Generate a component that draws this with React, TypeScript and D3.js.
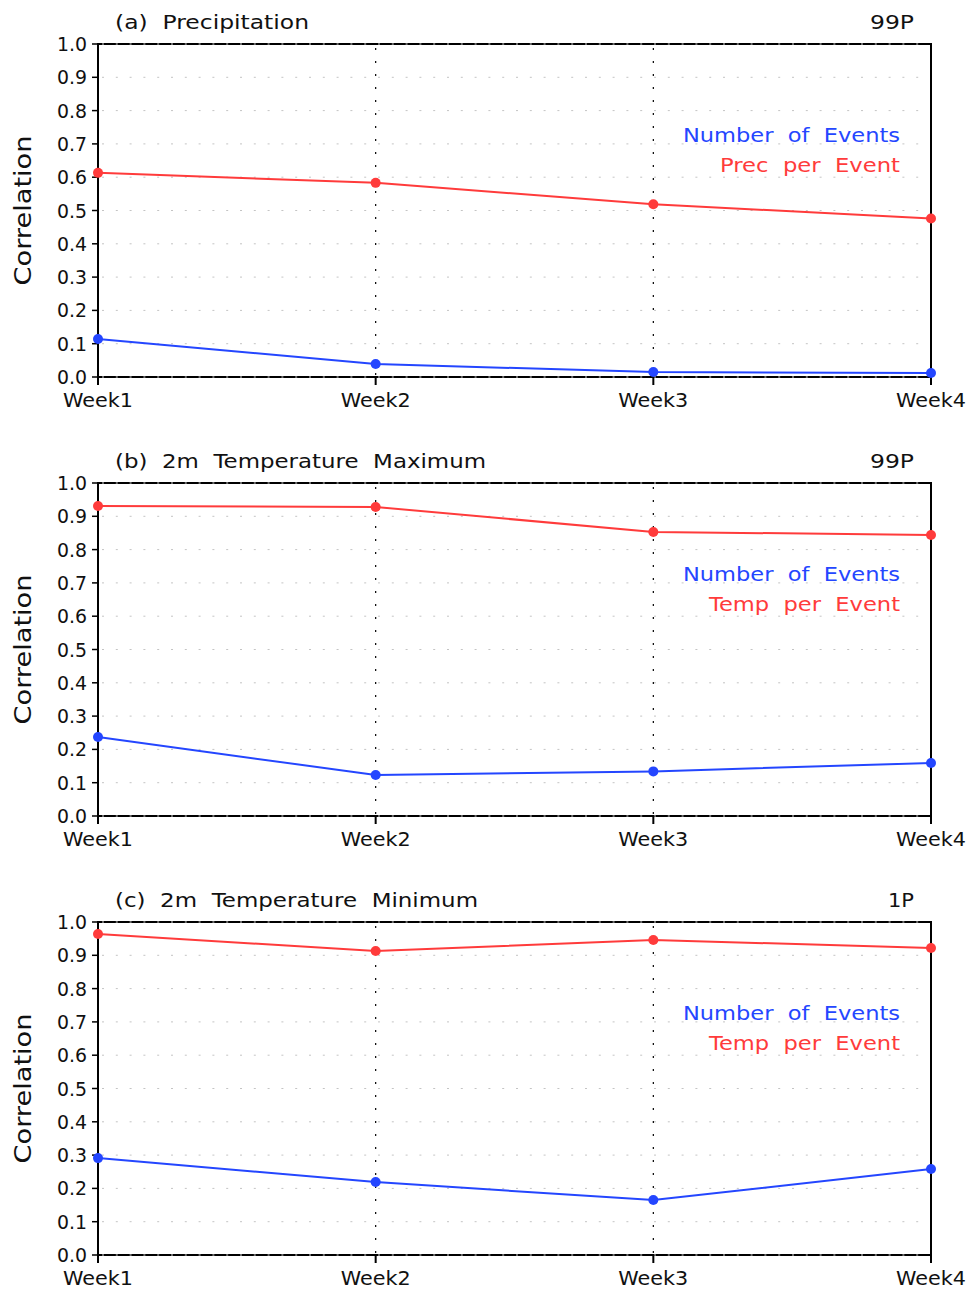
import React from "react";
import * as d3 from "d3";

const weeks = ["Week1", "Week2", "Week3", "Week4"];
const yTicks = [0, 0.1, 0.2, 0.3, 0.4, 0.5, 0.6, 0.7, 0.8, 0.9, 1.0];

const titles = ["(a)  Precipitation", "(b)  2m  Temperature  Maximum", "(c)  2m  Temperature  Minimum"];
const titleWidths = [194, 371, 363];
const rightLabels = ["99P", "99P", "1P"];
const rightWidths = [44, 44, 26];
const legendRed = ["Prec  per  Event", "Temp  per  Event", "Temp  per  Event"];
const legendRedWidths = [180, 191, 191];

const redA = [0.613, 0.583, 0.519, 0.476];
const blueA = [0.114, 0.039, 0.015, 0.012];
const redB = [0.931, 0.928, 0.853, 0.844];
const blueB = [0.237, 0.123, 0.134, 0.159];
const redC = [0.964, 0.913, 0.946, 0.922];
const blueC = [0.291, 0.219, 0.165, 0.258];

const redSeries = [redA, redB, redC];
const blueSeries = [blueA, blueB, blueC];

const RED = "#ff3b3b";
const BLUE = "#2446ff";
const FONT = "'DejaVu Sans', sans-serif";
const PRE = { whiteSpace: "pre" as const };

function Panel({ idx }: { idx: number }) {
  const top = 44 + idx * 439;
  const bottom = top + 333;
  const left = 98;
  const right = 931;
  const x = d3.scalePoint<string>().domain(weeks).range([left, right]);
  const y = d3.scaleLinear().domain([0, 1]).range([bottom, top]);
  const line = d3
    .line<number>()
    .x((_, i) => x(weeks[i]) as number)
    .y((d) => y(d));
  const red = redSeries[idx];
  const blue = blueSeries[idx];
  return (
    <g>
      {/* title */}
      <text x={115} y={top - 15} fontSize={20} fontFamily={FONT} fill="#111" style={PRE} textLength={titleWidths[idx]} lengthAdjust="spacingAndGlyphs">
        {titles[idx]}
      </text>
      <text x={914} y={top - 15} fontSize={20} fontFamily={FONT} fill="#111" textAnchor="end" textLength={rightWidths[idx]} lengthAdjust="spacingAndGlyphs">
        {rightLabels[idx]}
      </text>
      {/* border */}
      <rect x={left} y={top} width={right - left} height={bottom - top} fill="none" stroke="#000" strokeWidth={2} />
      {/* horizontal grid */}
      {yTicks.map((t) => (
        <line
          key={"g" + t}
          x1={left + 4}
          x2={right - 2}
          y1={y(t)}
          y2={y(t)}
          stroke={t === 0 || t === 1 ? "#d8d8d8" : "#c4c4c4"}
          strokeWidth={1}
          strokeDasharray="2 11.8"
        />
      ))}
      {/* vertical dotted lines */}
      {weeks.slice(1, 3).map((w) => (
        <line key={"v" + w} x1={x(w)} x2={x(w)} y1={top + 4} y2={bottom} stroke="#000" strokeWidth={1.2} strokeDasharray="2 11" />
      ))}
      {/* y ticks */}
      {yTicks.map((t) => (
        <g key={"t" + t}>
          <line x1={left - 6} x2={left} y1={y(t)} y2={y(t)} stroke="#000" strokeWidth={1.5} />
          <text x={87} y={y(t) + 7} fontSize={19} fontFamily={FONT} fill="#111" textAnchor="end" textLength={30} lengthAdjust="spacingAndGlyphs">
            {t.toFixed(1)}
          </text>
        </g>
      ))}
      {/* x ticks */}
      {weeks.map((w) => (
        <g key={"x" + w}>
          <line x1={x(w)} x2={x(w)} y1={bottom} y2={bottom + 8} stroke="#000" strokeWidth={2} />
          <text x={x(w)} y={bottom + 30} fontSize={19} fontFamily={FONT} fill="#111" textAnchor="middle" textLength={70} lengthAdjust="spacingAndGlyphs">
            {w}
          </text>
        </g>
      ))}
      {/* y label */}
      <text
        transform={`translate(31, ${(top + bottom) / 2}) rotate(-90)`}
        fontSize={23}
        fontFamily={FONT}
        fill="#111"
        textAnchor="middle"
        textLength={150}
        lengthAdjust="spacingAndGlyphs"
      >
        Correlation
      </text>
      {/* series */}
      <path d={line(red) || ""} fill="none" stroke={RED} strokeWidth={2} />
      <path d={line(blue) || ""} fill="none" stroke={BLUE} strokeWidth={2} />
      {red.map((v, i) => (
        <circle key={"r" + i} cx={x(weeks[i])} cy={y(v)} r={5} fill={RED} />
      ))}
      {blue.map((v, i) => (
        <circle key={"b" + i} cx={x(weeks[i])} cy={y(v)} r={5} fill={BLUE} />
      ))}
      {/* legend */}
      <text x={900} y={top + 98} fontSize={20} fontFamily={FONT} fill={BLUE} textAnchor="end" style={PRE} textLength={217} lengthAdjust="spacingAndGlyphs">
        {"Number  of  Events"}
      </text>
      <text x={900} y={top + 128} fontSize={20} fontFamily={FONT} fill={RED} textAnchor="end" style={PRE} textLength={legendRedWidths[idx]} lengthAdjust="spacingAndGlyphs">
        {legendRed[idx]}
      </text>
    </g>
  );
}

export default function App() {
  return (
    <svg width={972} height={1289} style={{ position: "absolute", left: 0, top: 0, background: "#fff" }}>
      <rect width={972} height={1289} fill="#fff" />
      {[0, 1, 2].map((i) => (
        <Panel key={i} idx={i} />
      ))}
    </svg>
  );
}
